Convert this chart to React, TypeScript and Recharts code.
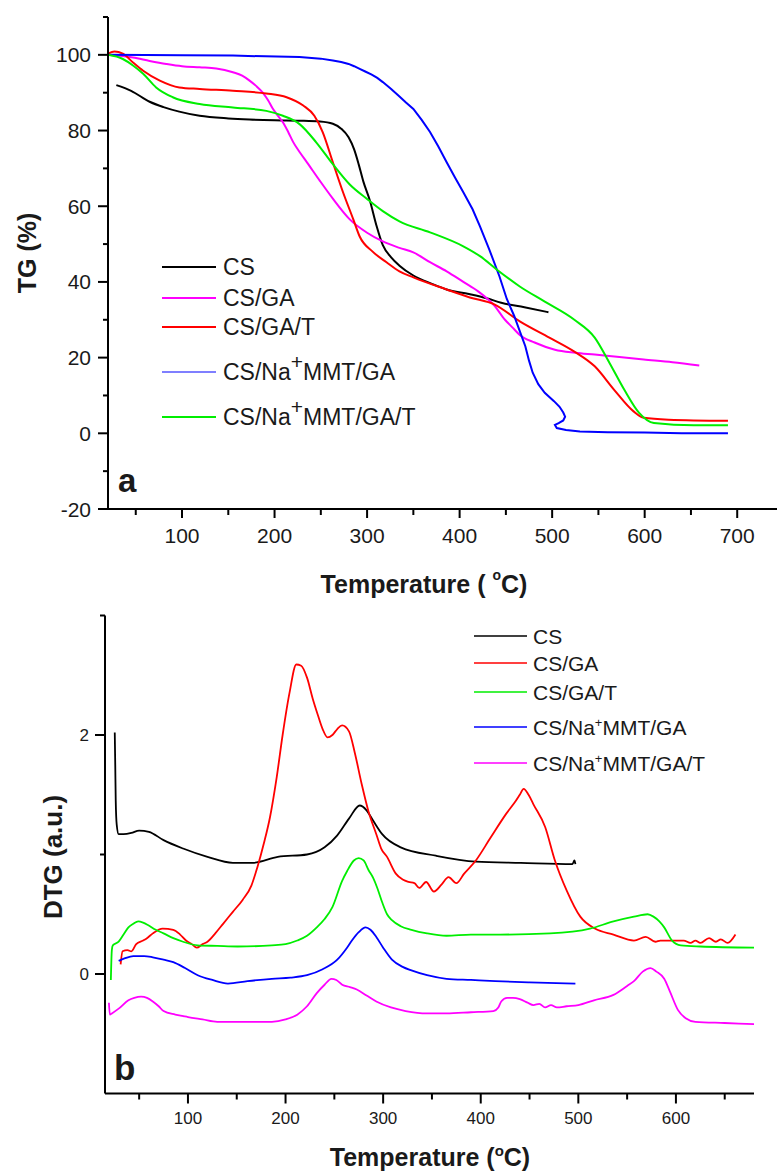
import { Legend, Line, LineChart, XAxis, YAxis } from "recharts";

const FONT = '"Liberation Sans", Arial, sans-serif';
const INK = "#1a1a1a";

// TG curves, [temperature °C, mass %]
const tgCS = [
  [29, 92.0], [45, 90.5], [65, 87.6], [80, 86.2], [97, 85.0], [119, 83.9], [150, 83.2],
  [173, 82.9], [200, 82.7], [227, 82.6], [249, 82.4], [263, 81.8], [272, 80.5], [280, 78.2],
  [286, 75.0], [291, 71.0], [296, 66.5], [303, 61.5], [310, 55.0], [317, 49.7], [326, 46.5],
  [335, 44.3], [350, 41.7], [370, 39.5], [386, 38.0], [410, 36.8], [429, 35.7], [445, 34.5],
  [470, 33.3], [496, 32.0],
];
const tgCSGA = [
  [20, 100], [30, 99.8], [47, 99.3], [65, 98.4], [83, 97.6], [100, 97.0], [119, 96.7],
  [137, 96.4], [155, 95.4], [165, 94.5], [173, 93.2], [180, 91.8], [187, 90.1], [193, 88.0],
  [198, 85.8], [204, 83.8], [209, 82.2], [215, 79.5], [220, 77.0], [228, 74.0], [235, 71.6],
  [249, 66.7], [263, 62.0], [281, 56.6], [300, 53.0], [317, 50.7], [335, 49.0], [350, 47.8],
  [368, 45.2], [386, 42.8], [404, 40.0], [420, 37.5], [438, 33.6], [449, 30.0], [457, 28.0],
  [465, 26.0], [481, 24.0], [503, 22.1], [525, 21.3], [546, 20.8], [570, 20.2], [599, 19.5],
  [630, 18.8], [659, 17.9],
];
const tgCSGAT = [
  [20, 100.3], [27, 100.9], [36, 100.3], [47, 98.0], [58, 95.8], [76, 93.2], [97, 91.4],
  [119, 91.0], [155, 90.5], [191, 89.8], [213, 88.8], [231, 86.6], [243, 83.9], [252, 79.6],
  [263, 71.6], [274, 63.7], [285, 56.6], [292, 52.0], [306, 48.0], [321, 45.2], [335, 42.8],
  [350, 41.2], [386, 38.0], [411, 35.9], [438, 34.0], [465, 29.6], [497, 25.3], [524, 21.6],
  [546, 17.7], [567, 11.5], [588, 5.8], [599, 4.1], [626, 3.6], [690, 3.3],
];
const tgMMTGA = [
  [20, 100], [100, 99.9], [155, 99.8], [227, 99.4], [250, 99.0], [263, 98.5], [272, 98.1],
  [280, 97.6], [286, 97.0], [292, 96.3], [298, 95.6], [305, 94.8], [311, 93.9], [317, 92.8],
  [326, 91.0], [335, 89.0], [342, 87.4], [350, 85.7], [359, 82.8], [368, 79.6], [377, 75.8],
  [386, 71.6], [395, 67.6], [404, 63.7], [414, 59.2], [422, 54.7], [432, 48.6], [443, 41.5],
  [451, 35.5], [459, 31.0], [465, 27.0], [471, 23.0], [475, 19.2], [479, 16.0], [485, 13.0],
  [492, 10.7], [502, 8.5], [508, 7.0], [512, 5.5], [514, 4.4], [512, 3.4], [507, 2.7],
  [503, 2.2], [505, 1.4], [515, 0.9], [530, 0.5], [560, 0.3], [600, 0.2], [640, 0.0],
  [690, 0.0],
];
const tgMMTGAT = [
  [20, 100], [36, 98.9], [47, 97.2], [58, 95.0], [72, 91.4], [90, 88.8], [119, 87.0],
  [155, 86.1], [191, 85.2], [209, 83.9], [227, 81.7], [245, 76.9], [263, 71.1], [281, 65.8],
  [300, 61.9], [317, 58.7], [335, 56.0], [368, 53.1], [404, 49.4], [422, 46.8], [440, 43.3],
  [465, 38.8], [492, 34.8], [524, 30.0], [546, 25.3], [562, 18.6], [578, 11.5], [594, 5.4],
  [610, 2.7], [653, 2.1], [690, 2.1],
];

// DTG curves, [temperature °C, a.u.]
const dtgCS = [
  [25, 2.02], [25.5, 1.75], [26, 1.45], [27, 1.25], [29, 1.17], [34, 1.17], [42, 1.18],
  [50, 1.2], [60, 1.19], [75, 1.12], [95, 1.05], [120, 0.98], [146, 0.93], [166, 0.93],
  [192, 0.98], [222, 1.0], [240, 1.06], [253, 1.16], [265, 1.3], [276, 1.41], [283, 1.37],
  [290, 1.28], [299, 1.17], [318, 1.06], [354, 0.99], [395, 0.94], [441, 0.93], [494, 0.92],
  [496, 0.95], [497, 0.92],
];
const dtgCSGA = [
  [31, 0.08], [33, 0.19], [38, 0.2], [42, 0.19], [47, 0.25], [54, 0.28], [58, 0.3],
  [64, 0.34], [74, 0.38], [85, 0.37], [92, 0.33], [98, 0.28], [104, 0.25], [109, 0.22],
  [115, 0.25], [120, 0.27], [128, 0.34], [136, 0.42], [146, 0.52], [156, 0.62], [165, 0.74],
  [171, 0.89], [178, 1.1], [184, 1.31], [191, 1.65], [197, 2.0], [204, 2.35], [211, 2.59],
  [216, 2.58], [222, 2.48], [228, 2.3], [233, 2.17], [238, 2.05], [243, 1.98], [248, 2.0],
  [253, 2.05], [258, 2.08], [265, 2.03], [271, 1.85], [278, 1.59], [285, 1.36], [293, 1.17],
  [298, 1.05], [304, 0.98], [313, 0.84], [320, 0.79], [326, 0.77], [332, 0.76], [337, 0.72],
  [344, 0.77], [352, 0.69], [360, 0.75], [367, 0.81], [375, 0.76], [383, 0.84], [395, 0.95],
  [410, 1.14], [426, 1.34], [436, 1.45], [440, 1.5], [444, 1.55], [449, 1.5], [454, 1.42],
  [466, 1.23], [476, 0.95], [488, 0.7], [502, 0.48], [517, 0.38], [536, 0.33], [557, 0.28],
  [569, 0.31], [579, 0.27], [584, 0.28], [608, 0.28], [615, 0.26], [620, 0.28], [625, 0.26],
  [634, 0.3], [641, 0.27], [646, 0.29], [653, 0.26], [661, 0.33],
];
const dtgCSGAT = [
  [21, -0.05], [22, 0.2], [23, 0.24], [29, 0.27], [34, 0.33], [39, 0.39], [44, 0.42],
  [49, 0.44], [54, 0.43], [59, 0.41], [67, 0.37], [75, 0.34], [85, 0.3], [95, 0.27],
  [110, 0.24], [130, 0.235], [151, 0.23], [186, 0.24], [200, 0.25], [212, 0.28], [222, 0.32],
  [232, 0.39], [240, 0.46], [248, 0.56], [258, 0.78], [263, 0.86], [270, 0.95], [275, 0.97],
  [280, 0.95], [285, 0.87], [290, 0.8], [294, 0.72], [299, 0.6], [304, 0.5], [309, 0.45],
  [318, 0.4], [329, 0.37], [345, 0.34], [365, 0.32], [390, 0.33], [420, 0.33], [471, 0.34],
  [512, 0.38], [536, 0.44], [557, 0.48], [571, 0.5], [577, 0.48], [583, 0.44], [588, 0.39],
  [596, 0.28], [605, 0.24], [625, 0.23], [680, 0.22],
];
const dtgMMTGA = [
  [29, 0.11], [35, 0.13], [44, 0.15], [55, 0.15], [64, 0.14], [75, 0.12], [85, 0.1],
  [97, 0.05], [110, -0.01], [125, -0.05], [141, -0.08], [161, -0.06], [186, -0.04],
  [205, -0.03], [222, -0.01], [238, 0.04], [253, 0.12], [263, 0.22], [268, 0.28], [275, 0.35],
  [282, 0.39], [287, 0.37], [293, 0.31], [300, 0.22], [309, 0.12], [320, 0.06], [329, 0.03],
  [345, -0.01], [365, -0.04], [390, -0.05], [415, -0.06], [450, -0.07], [497, -0.08],
];
const dtgMMTGAT = [
  [19, -0.24], [20, -0.34], [22, -0.33], [29, -0.29], [39, -0.22], [45, -0.2], [52, -0.19],
  [58, -0.2], [64, -0.23], [70, -0.27], [75, -0.31], [87, -0.34], [100, -0.36], [115, -0.38],
  [130, -0.4], [186, -0.4], [200, -0.38], [212, -0.34], [222, -0.27], [232, -0.16],
  [240, -0.09], [247, -0.04], [252, -0.05], [258, -0.09], [266, -0.11], [273, -0.13],
  [283, -0.18], [293, -0.23], [308, -0.28], [323, -0.31], [345, -0.33], [365, -0.33],
  [390, -0.32], [413, -0.31], [418, -0.28], [421, -0.23], [427, -0.2], [433, -0.2],
  [440, -0.21], [448, -0.24], [454, -0.26], [460, -0.25], [466, -0.28], [472, -0.26],
  [478, -0.28], [488, -0.27], [500, -0.26], [516, -0.22], [536, -0.175], [550, -0.1],
  [557, -0.06], [566, 0.02], [574, 0.05], [580, 0.02], [588, -0.04], [594, -0.15],
  [602, -0.3], [610, -0.37], [620, -0.4], [650, -0.41], [680, -0.42],
];

const tgXTicks = [50, 100, 150, 200, 250, 300, 350, 400, 450, 500, 550, 600, 650, 700];
const tgYTicks = [-20, -10, 0, 10, 20, 30, 40, 50, 60, 70, 80, 90, 100, 110];
const dtgXTicks = [50, 100, 150, 200, 250, 300, 350, 400, 450, 500, 550, 600, 650];
const dtgYTicks = [0, 1, 2, 3];
const dtgYLabels = [0, 2];

const toRows = (pts: number[][]) => pts.map(([t, v]) => ({ t, v }));

const tgSeries = [
  { name: "CS", color: "#000000", points: tgCS, legendWidth: 2 },
  { name: "CS/GA", color: "#ff00ff", points: tgCSGA, legendWidth: 2 },
  { name: "CS/GA/T", color: "#ff0000", points: tgCSGAT, legendWidth: 2 },
  { name: "CS/Na+MMT/GA", color: "#0000ff", points: tgMMTGA, legendWidth: 1.2 },
  { name: "CS/Na+MMT/GA/T", color: "#00ee00", points: tgMMTGAT, legendWidth: 2 },
];
const dtgSeries = [
  { name: "CS", color: "#000000", points: dtgCS, legendWidth: 1.6 },
  { name: "CS/GA", color: "#ff0000", points: dtgCSGA, legendWidth: 1.6 },
  { name: "CS/GA/T", color: "#00ee00", points: dtgCSGAT, legendWidth: 1.6 },
  { name: "CS/Na+MMT/GA", color: "#0000ff", points: dtgMMTGA, legendWidth: 1.6 },
  { name: "CS/Na+MMT/GA/T", color: "#ff00ff", points: dtgMMTGAT, legendWidth: 1.6 },
];

function SeriesName({ name, supSize, raise }: { name: string; supSize: number; raise: number }) {
  const i = name.indexOf("Na+");
  if (i < 0) return <>{name}</>;
  return (
    <>
      {name.slice(0, i + 2)}
      <tspan dy={-raise} fontSize={supSize}>+</tspan>
      <tspan dy={raise}>{name.slice(i + 3)}</tspan>
    </>
  );
}

type LegendProps = {
  series: typeof tgSeries;
  rows: number[];
  lineX: [number, number];
  textX: number;
  fontSize: number;
  supSize: number;
  raise: number;
};

function LegendBox({ series, rows, lineX, textX, fontSize, supSize, raise }: LegendProps) {
  return (
    <svg width={330} height={200} style={{ overflow: "visible", display: "block" }}>
      {series.map((s, i) => (
        <g key={s.name}>
          <line x1={lineX[0]} x2={lineX[1]} y1={rows[i]} y2={rows[i]} stroke={s.color} strokeWidth={s.legendWidth} />
          <text x={textX} y={rows[i] + fontSize * 0.36} fontSize={fontSize} fill={INK} fontFamily={FONT}>
            <SeriesName name={s.name} supSize={supSize} raise={raise} />
          </text>
        </g>
      ))}
    </svg>
  );
}

function TgXTick({ x, y, payload }: any) {
  const major = payload.value % 100 === 0;
  return (
    <g>
      <line x1={x} x2={x} y1={y} y2={y + (major ? 9 : 6)} stroke="#000" strokeWidth={2} />
      {major && (
        <text x={x} y={y + 34} textAnchor="middle" fontSize={21} fill={INK} fontFamily={FONT}>
          {payload.value}
        </text>
      )}
    </g>
  );
}

function TgYTick({ x, y, payload }: any) {
  const major = payload.value % 20 === 0 && payload.value <= 100;
  return (
    <g>
      <line x1={x - (major ? 10 : 5)} x2={x} y1={y} y2={y} stroke="#000" strokeWidth={2} />
      {major && (
        <text x={x - 17} y={y + 7.5} textAnchor="end" fontSize={21} fill={INK} fontFamily={FONT}>
          {payload.value}
        </text>
      )}
    </g>
  );
}

function DtgXTick({ x, y, payload }: any) {
  const major = payload.value % 100 === 0;
  return (
    <g>
      <line x1={x} x2={x} y1={y} y2={y + (major ? 10 : 6)} stroke="#000" strokeWidth={2} />
      {major && (
        <text x={x} y={y + 30} textAnchor="middle" fontSize={17} fill={INK} fontFamily={FONT}>
          {payload.value}
        </text>
      )}
    </g>
  );
}

function DtgYTick({ x, y, payload }: any) {
  const major = dtgYLabels.includes(payload.value);
  return (
    <g>
      <line x1={x - (major ? 10 : 5)} x2={x} y1={y} y2={y} stroke="#000" strokeWidth={2} />
      {major && (
        <text x={x - 16} y={y + 6} textAnchor="end" fontSize={17} fill={INK} fontFamily={FONT}>
          {payload.value}
        </text>
      )}
    </g>
  );
}

const axisLine = { stroke: "#000", strokeWidth: 2 };

function TgChart() {
  return (
    <LineChart width={777} height={600} margin={{ top: 17, right: 0, bottom: 61, left: 48 }}>
      <XAxis
        type="number"
        dataKey="t"
        domain={[20, 743]}
        ticks={tgXTicks}
        interval={0}
        allowDataOverflow
        height={30}
        tickSize={0}
        tickMargin={0}
        tickLine={false}
        axisLine={axisLine}
        tick={<TgXTick />}
      />
      <YAxis
        type="number"
        dataKey="v"
        domain={[-20, 110]}
        ticks={tgYTicks}
        interval={0}
        allowDataOverflow
        width={60}
        tickSize={0}
        tickMargin={0}
        tickLine={false}
        axisLine={axisLine}
        tick={<TgYTick />}
      />
      {tgSeries.map((s) => (
        <Line
          key={s.name}
          name={s.name}
          data={toRows(s.points)}
          dataKey="v"
          type={s.name === "CS/Na+MMT/GA" ? "linear" : "monotone"}
          stroke={s.color}
          strokeWidth={2}
          dot={false}
          activeDot={false}
          isAnimationActive={false}
        />
      ))}
      <Legend
        layout="horizontal"
        verticalAlign="middle"
        align="center"
        wrapperStyle={{ left: 0, top: 0, width: 330, height: 200 }}
        content={() => (
          <LegendBox
            series={tgSeries}
            rows={[267, 298, 327, 372, 417]}
            lineX={[162, 216]}
            textX={223}
            fontSize={23}
            supSize={21}
            raise={11}
          />
        )}
      />
    </LineChart>
  );
}

function DtgChart() {
  return (
    <LineChart width={777} height={572} margin={{ top: 15.5, right: 23, bottom: 48.5, left: 45 }}>
      <XAxis
        type="number"
        dataKey="t"
        domain={[15, 680]}
        ticks={dtgXTicks}
        interval={0}
        allowDataOverflow
        height={30}
        tickSize={0}
        tickMargin={0}
        tickLine={false}
        axisLine={axisLine}
        tick={<DtgXTick />}
      />
      <YAxis
        type="number"
        dataKey="v"
        domain={[-1, 3]}
        ticks={dtgYTicks}
        interval={0}
        allowDataOverflow
        width={60}
        tickSize={0}
        tickMargin={0}
        tickLine={false}
        axisLine={axisLine}
        tick={<DtgYTick />}
      />
      {dtgSeries.map((s) => (
        <Line
          key={s.name}
          name={s.name}
          data={toRows(s.points)}
          dataKey="v"
          type="monotone"
          stroke={s.color}
          strokeWidth={1.8}
          dot={false}
          activeDot={false}
          isAnimationActive={false}
        />
      ))}
      <Legend
        layout="horizontal"
        verticalAlign="middle"
        align="center"
        wrapperStyle={{ left: 0, top: 0, width: 330, height: 200 }}
        content={() => (
          <LegendBox
            series={dtgSeries}
            rows={[36, 63, 92, 127, 163]}
            lineX={[474, 527]}
            textX={533}
            fontSize={21}
            supSize={13}
            raise={8}
          />
        )}
      />
    </LineChart>
  );
}

function Titles() {
  const bold = { fontFamily: FONT, fontWeight: 700, fill: INK } as const;
  return (
    <svg width={777} height={1172} style={{ position: "absolute", left: 0, top: 0, pointerEvents: "none" }}>
      <text {...bold} fontSize={25} textAnchor="middle" transform="translate(36 253) rotate(-90)">
        TG (%)
      </text>
      <text {...bold} fontSize={25} x={424} y={593} textAnchor="middle">
        Temperature ( <tspan dy={-13} fontSize={14}>o</tspan>
        <tspan dy={13}>C)</tspan>
      </text>
      <text {...bold} fontSize={33} x={118} y={492}>
        a
      </text>
      <text {...bold} fontSize={26} textAnchor="middle" transform="translate(62 857) rotate(-90)">
        DTG (a.u.)
      </text>
      <text {...bold} fontSize={25} x={430} y={1166} textAnchor="middle">
        Temperature (<tspan dy={-10} fontSize={15}>o</tspan>
        <tspan dy={10}>C)</tspan>
      </text>
      <text {...bold} fontSize={35} x={114} y={1080}>
        b
      </text>
    </svg>
  );
}

export default function App() {
  return (
    <div style={{ position: "absolute", left: 0, top: 0, width: 777, height: 1172, background: "#fff", fontFamily: FONT }}>
      <div style={{ position: "absolute", left: 0, top: 0 }}>
        <TgChart />
      </div>
      <div style={{ position: "absolute", left: 0, top: 600 }}>
        <DtgChart />
      </div>
      <Titles />
    </div>
  );
}
